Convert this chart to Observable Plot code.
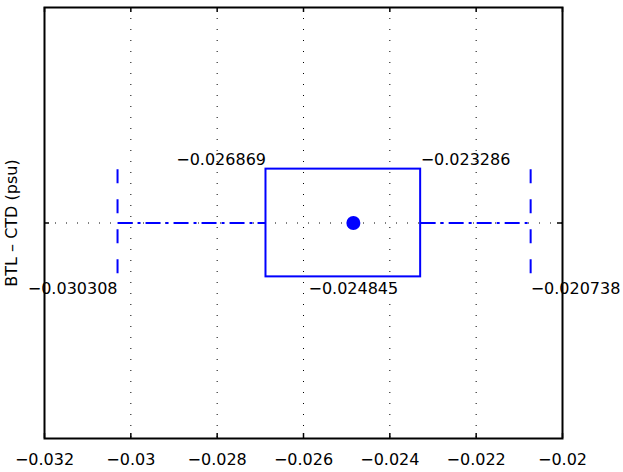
<!DOCTYPE html>
<html>
<head>
<meta charset="utf-8">
<script src="https://cdn.jsdelivr.net/npm/d3@7"></script>
<script src="https://cdn.jsdelivr.net/npm/@observablehq/plot@0.6"></script>
<style>
  html, body { margin: 0; padding: 0; background: #fff; }
  #chart svg { display: block; }
</style>
</head>
<body>
<div id="chart"></div>
<script>
// ---- data ----
const xTicks = [-0.032, -0.030, -0.028, -0.026, -0.024, -0.022, -0.020];
const xTickLabels = ["−0.032", "−0.03", "−0.028", "−0.026", "−0.024", "−0.022", "−0.02"];
const yLabel = "BTL – CTD (psu)";
const boxPosition = 1;          // y position of the box
const boxHalfWidth = 0.25;      // half thickness of the box (y units)
const q1 = -0.026869;
const q3 = -0.023286;
const median = -0.024845;
const whiskerLow = -0.030308;
const whiskerHigh = -0.020738;

const fmt = v => (v < 0 ? "−" : "") + Math.abs(v).toFixed(6);
const blue = "#0000ff";
const yTop = boxPosition + boxHalfWidth;
const yBot = boxPosition - boxHalfWidth;

const upperLabels = [
  {x: q1, anchor: "end"},
  {x: q3, anchor: "start"}
];
const lowerLabels = [
  {x: whiskerLow, anchor: "end"},
  {x: median, anchor: "middle"},
  {x: whiskerHigh, anchor: "start"}
];

const W = 623, H = 472;
const mL = 44, mR = 61, mT = 7, mB = 34;
const frameW = W - mL - mR, frameH = H - mT - mB;

const chart = Plot.plot({
  width: W,
  height: H,
  marginLeft: mL,
  marginRight: mR,
  marginTop: mT,
  marginBottom: mB,
  style: {fontFamily: "DejaVu Sans, sans-serif", fontSize: "16px", background: "#fff", color: "black"},
  x: {domain: [xTicks[0], xTicks[xTicks.length - 1]], axis: null},
  y: {domain: [0, 2], axis: null},
  marks: [
    // dotted grid
    Plot.gridX(xTicks.slice(1, -1), {stroke: "black", strokeOpacity: 1, strokeWidth: 1, strokeDasharray: "1,10"}),
    Plot.ruleY([boxPosition], {stroke: "black", strokeWidth: 1, strokeDasharray: "1,10"}),
    // inward ticks
    Plot.tickX(xTicks, {x: d => d, stroke: "black", strokeWidth: 1.5, insetTop: frameH - 5}),
    Plot.tickX(xTicks, {x: d => d, stroke: "black", strokeWidth: 1.5, insetBottom: frameH - 5}),
    Plot.tickY([boxPosition], {y: d => d, stroke: "black", strokeWidth: 1.5, insetRight: frameW - 5}),
    Plot.tickY([boxPosition], {y: d => d, stroke: "black", strokeWidth: 1.5, insetLeft: frameW - 5}),
    // whiskers (dash-dot)
    Plot.link([{a: whiskerLow, b: q1}, {a: q3, b: whiskerHigh}], {
      x1: "a", x2: "b", y1: () => boxPosition, y2: () => boxPosition,
      stroke: blue, strokeWidth: 2, strokeDasharray: "15,5,3,5"
    }),
    // whisker caps (dashed)
    Plot.link([whiskerLow, whiskerHigh], {
      x1: d => d, x2: d => d, y1: () => yTop, y2: () => yBot,
      stroke: blue, strokeWidth: 2, strokeDasharray: "14,16"
    }),
    // box
    Plot.rect([{a: q1, b: q3}], {x1: "a", x2: "b", y1: () => yBot, y2: () => yTop, fill: "none", stroke: blue, strokeWidth: 2}),
    // median dot
    Plot.dot([median], {x: d => d, y: () => boxPosition, r: 7, fill: blue, stroke: "none"}),
    // frame
    Plot.frame({stroke: "black", strokeWidth: 2}),
    // value labels
    ...upperLabels.map(l => Plot.text([l], {x: "x", y: () => yTop, text: d => fmt(d.x), textAnchor: l.anchor, lineAnchor: "bottom", dy: -4, fill: "black", fontSize: 16})),
    ...lowerLabels.map(l => Plot.text([l], {x: "x", y: () => yBot, text: d => fmt(d.x), textAnchor: l.anchor, lineAnchor: "bottom", dy: 17.5, fill: "black", fontSize: 16})),
    // x axis labels
    Plot.axisX(xTicks, {anchor: "bottom", tickSize: 0, tickPadding: 15, tickFormat: d => xTickLabels[xTicks.indexOf(d)], fontSize: 16, fill: "black"}),
    // y axis label
    Plot.text([yLabel], {frameAnchor: "left", text: d => d, rotate: -90, textAnchor: "middle", lineAnchor: "bottom", dx: -28, fill: "black", fontSize: 16})
  ]
});
document.getElementById("chart").appendChild(chart);
</script>
</body>
</html>
